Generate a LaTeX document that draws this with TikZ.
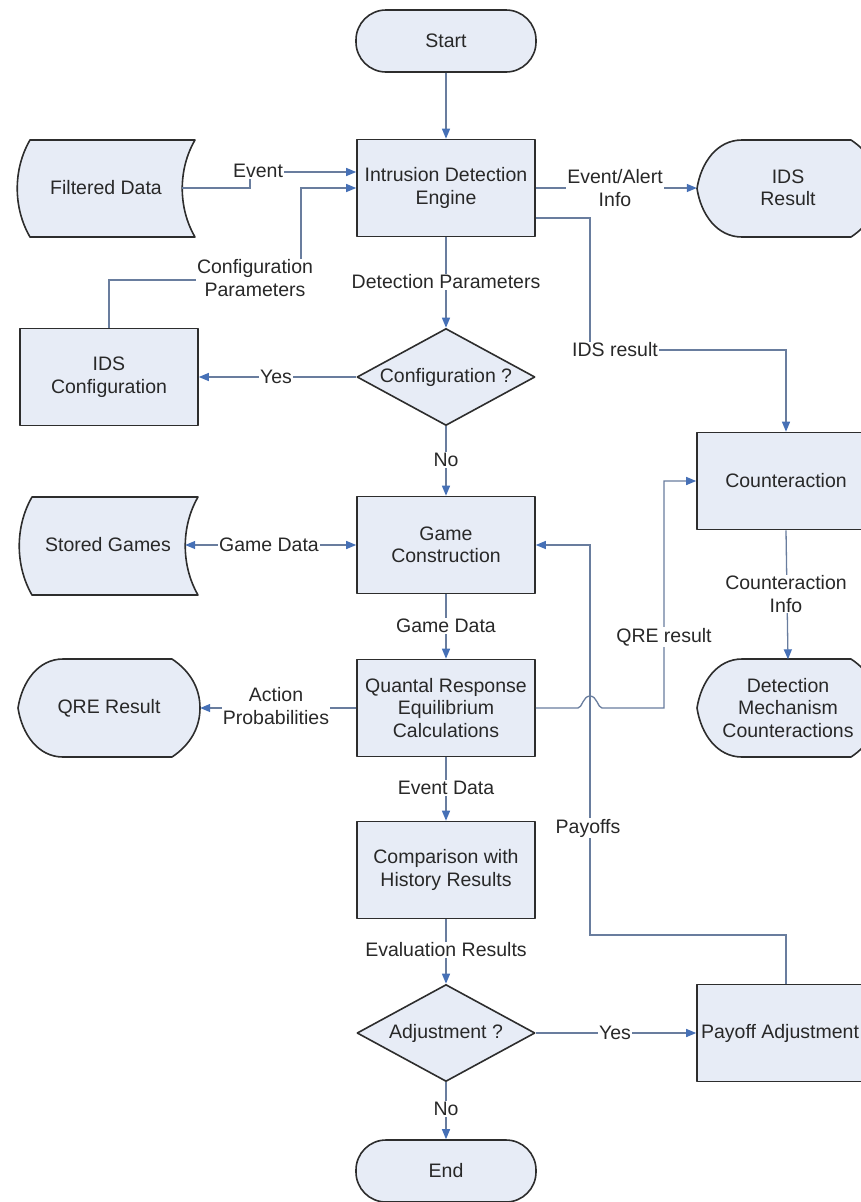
\documentclass[tikz,border=0pt]{standalone}
\usepackage{fontspec}
\setmainfont{Liberation Sans}
\usetikzlibrary{arrows.meta,shapes.geometric}

\definecolor{boxfill}{RGB}{231,236,246}
\definecolor{boxline}{RGB}{45,45,45}
\definecolor{wire}{RGB}{105,125,158}
\definecolor{tipblue}{RGB}{70,112,182}
\definecolor{ink}{RGB}{40,40,40}

\newcommand\lfont{\fontsize{19.5pt}{22.5pt}\selectfont}

% stored-data outline: left x, right x, top y, bottom y
\newcommand\storedshape[4]{%
  \path[box] (#1,#3) -- (#2,#3)
    .. controls ({#2-17},{#3+0.3*(#4-#3)}) and ({#2-17},{#4-0.3*(#4-#3)}) .. (#2,#4)
    -- (#1,#4)
    .. controls ({#1-17},{#4-0.3*(#4-#3)}) and ({#1-17},{#3+0.3*(#4-#3)}) .. (#1,#3) -- cycle;}

% display outline: left x, top y, bottom y
\newcommand\dispshape[3]{%
  \path[box] (#1,{(#2+#3)/2})
    .. controls ({#1+4},{(#2+#3)/2-26}) and ({#1+20},#2) .. ({#1+45},#2)
    -- ({#1+154},#2)
    .. controls ({#1+172},{#2+12}) and ({#1+182},{(#2+#3)/2-20}) .. ({#1+182},{(#2+#3)/2})
    .. controls ({#1+182},{(#2+#3)/2+20}) and ({#1+172},{#3-12}) .. ({#1+154},#3)
    -- ({#1+45},#3)
    .. controls ({#1+20},#3) and ({#1+4},{(#2+#3)/2+26}) .. (#1,{(#2+#3)/2}) -- cycle;}

\begin{document}
\begin{tikzpicture}[x=1pt,y=-1pt,
  box/.style={draw=boxline, line width=1.6pt, fill=boxfill, line join=round},
  proc/.style={box, rectangle, minimum width=178pt, minimum height=97pt,
    inner sep=0pt, align=center, font=\lfont, text=ink},
  terminal/.style={box, rectangle, rounded corners=30pt, minimum width=180pt,
    minimum height=62pt, inner sep=0pt, font=\lfont, text=ink},
  decision/.style={box, diamond, minimum width=178pt, minimum height=97pt,
    inner sep=0pt},
  anchorbox/.style={rectangle, inner sep=0pt, align=center, font=\lfont, text=ink},
  txt/.style={font=\lfont, text=ink, align=center, inner sep=0pt},
  conn/.style={draw=wire, line width=1.3pt,
    -{Triangle[length=10pt,width=8pt,color=tipblue]}},
  dconn/.style={draw=wire, line width=1.3pt,
    {Triangle[length=10pt,width=8pt,color=tipblue]}-{Triangle[length=10pt,width=8pt,color=tipblue]}},
  lbl/.style={fill=white, inner sep=1pt, align=center, font=\lfont, text=ink}]

\useasboundingbox (0,0) rectangle (861,1202);
\clip (0,0) rectangle (861,1202);

% ---------- shapes ----------
\node[terminal] (start) at (446,41) {Start};
\node[proc] (ide) at (446,188) {Intrusion Detection\\Engine};

\storedshape{30}{195}{140}{237}
\node[anchorbox, minimum width=152pt, minimum height=97pt] (fd) at (106,188) {Filtered Data};

\dispshape{697}{140}{237}
\node[anchorbox, minimum width=182pt, minimum height=97pt] (idsr) at (788,188) {IDS\\Result};

\node[proc] (idscfg) at (109,377) {IDS\\Configuration};
\node[decision] (cfg) at (446,377) {};
\node[txt] at (cfg) {Configuration ?};

\node[proc] (gc) at (446,545) {Game\\Construction};
\storedshape{32}{198}{497}{595}
\node[anchorbox, minimum width=154pt, minimum height=97pt] (sg) at (108,545) {Stored Games};

\node[proc] (ctr) at (786,481) {Counteraction};

\node[proc] (qrec) at (446,708) {Quantal Response\\Equilibrium\\Calculations};
\dispshape{18}{659}{757}
\node[anchorbox, minimum width=182pt, minimum height=97pt] (qr) at (109,708) {QRE Result};

\dispshape{697}{659}{757}
\node[anchorbox, minimum width=182pt, minimum height=97pt] (dmc) at (788,708) {Detection\\Mechanism\\Counteractions};

\node[proc] (cmp) at (446,870) {Comparison with\\History Results};
\node[decision] (adj) at (446,1033) {};
\node[txt] at (adj) {Adjustment ?};
\node[proc] (pa) at (786,1033) {};
\node[txt] at (780,1033) {Payoff Adjustment};
\node[terminal] (end) at (446,1171) {End};

% ---------- connectors ----------
\draw[conn] (start.south) -- (ide.north);
\draw[conn] (fd.east) -- (250,188) |- ([yshift=16pt]ide.west);
\draw[conn] (idscfg.north) |- (301,280) |- (ide.west);
\draw[conn] (ide.east) -- (idsr.west);
\draw[conn] ([yshift=-30pt]ide.east) -| (590,350) -| (ctr.north);
\draw[conn] (ide.south) -- (cfg.north);
\draw[conn] (cfg.west) -- (idscfg.east);
\draw[conn] (cfg.south) -- (gc.north);
\draw[dconn] (gc.west) -- (sg.east);
\draw[conn] (gc.south) -- (qrec.north);
\draw[conn] (qrec.west) -- (qr.east);
\draw[conn] (qrec.east) -- (578,708)
  .. controls (582,708) and (583,696) .. (590,696)
  .. controls (597,696) and (598,708) .. (602,708)
  -- (664,708) |- (ctr.west);
\draw[conn] (ctr.south) -- (dmc.north);
\draw[conn] (qrec.south) -- (cmp.north);
\draw[conn] (cmp.south) -- (adj.north);
\draw[conn] (adj.east) -- (pa.west);
\draw[conn] (adj.south) -- (end.north);
\draw[conn] (pa.north) |- (590,935) |- (gc.east);

% ---------- connector labels ----------
\node[lbl] at (258,171) {Event};
\node[lbl] at (255,278) {Configuration\\Parameters};
\node[lbl] at (615,188) {Event/Alert\\Info};
\node[lbl] at (446,282) {Detection Parameters};
\node[lbl] at (615,350) {IDS result};
\node[lbl] at (276,377) {Yes};
\node[lbl] at (446,460) {No};
\node[lbl] at (269,545) {Game Data};
\node[lbl] at (446,626) {Game Data};
\node[lbl] at (276,706) {Action\\Probabilities};
\node[lbl] at (664,637) {QRE result};
\node[lbl] at (786,594) {Counteraction\\Info};
\node[lbl] at (446,788) {Event Data};
\node[lbl] at (588,828) {Payoffs};
\node[lbl] at (446,950) {Evaluation Results};
\node[lbl] at (615,1033) {Yes};
\node[lbl] at (446,1109) {No};
\end{tikzpicture}
\end{document}
